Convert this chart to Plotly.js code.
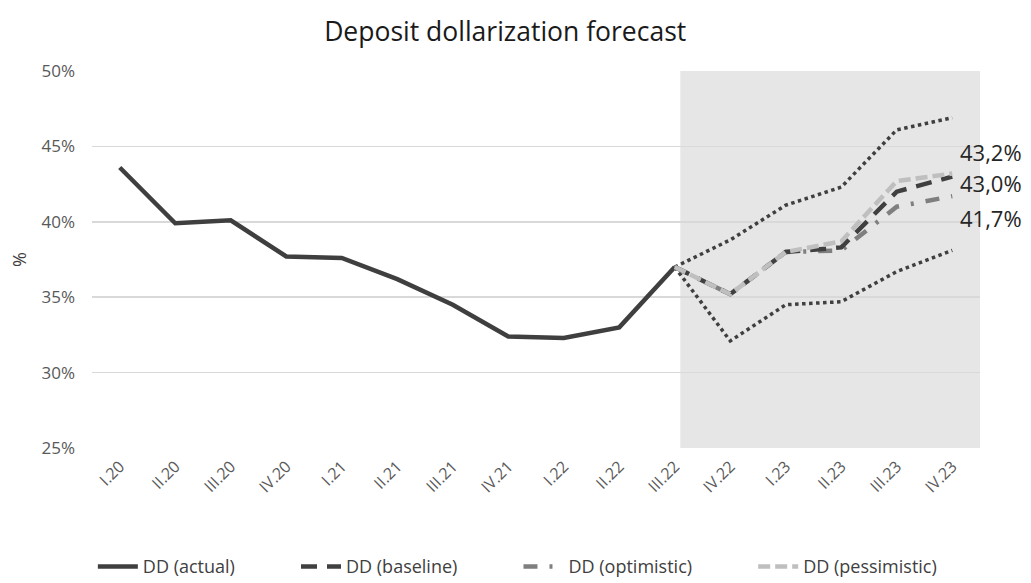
<!DOCTYPE html>
<html>
<head>
<meta charset="utf-8">
<script src="https://cdn.plot.ly/plotly-3.0.1.min.js"></script>
<style>html,body{margin:0;padding:0;background:#fff;}#chart{width:1031px;height:583px;}</style>
</head>
<body>
<div id="chart"></div>
<script>
const categories = ["I.20","II.20","III.20","IV.20","I.21","II.21","III.21","IV.21","I.22","II.22","III.22","IV.22","I.23","II.23","III.23","IV.23"];
const forecastCats = ["III.22","IV.22","I.23","II.23","III.23","IV.23"];
const actual = [43.6, 39.9, 40.1, 37.7, 37.6, 36.2, 34.5, 32.4, 32.3, 33.0, 37.0];
const baseline = [37.0, 35.2, 38.0, 38.3, 42.0, 43.0];
const optimistic = [37.0, 35.2, 38.0, 38.1, 41.0, 41.7];
const pessimistic = [37.0, 35.2, 38.0, 38.7, 42.7, 43.2];
const upperBound = [37.0, 38.8, 41.1, 42.3, 46.1, 46.9];
const lowerBound = [37.0, 32.1, 34.5, 34.7, 36.7, 38.1];
const seriesNames = ["DD (actual)", "DD (baseline)", "DD (optimistic)", "DD (pessimistic)"];
const endLabels = ["43,2%", "43,0%", "41,7%"];
const labelY = [44.6, 42.6, 40.25];

const font = "Open Sans, Lato, sans-serif";
const gap = "\u00a0".repeat(12);
const traces = [
  {x: categories.slice(0, actual.length), y: actual, name: seriesNames[0] + gap, mode: "lines",
   line: {color: "#3f3f3f", width: 4.5}, legendrank: 1},
  {x: forecastCats, y: upperBound, mode: "lines", showlegend: false, name: "upper",
   line: {color: "#3f3f3f", width: 3.5, dash: "dot"}},
  {x: forecastCats, y: lowerBound, mode: "lines", showlegend: false, name: "lower",
   line: {color: "#3f3f3f", width: 3.5, dash: "dot"}},
  {x: forecastCats, y: optimistic, name: seriesNames[2] + gap, mode: "lines", legendrank: 3,
   line: {color: "#7f7f7f", width: 4.5, dash: "14px,12px,3px,12px"}},
  {x: forecastCats, y: baseline, name: seriesNames[1] + gap, mode: "lines", legendrank: 2,
   line: {color: "#404040", width: 4.5, dash: "16px,10px"}},
  {x: forecastCats, y: pessimistic, name: seriesNames[3], mode: "lines", legendrank: 4,
   line: {color: "#bfbfbf", width: 4.5, dash: "12px,5px"}}
];

const annotations = endLabels.map((t, i) => ({
  x: categories.length - 1, y: labelY[i], xref: "x", yref: "y", text: t, showarrow: false,
  xanchor: "left", yanchor: "middle", xshift: 6, font: {family: font, size: 22, color: "#262626"}
}));

const layout = {
  width: 1031, height: 583,
  margin: {l: 92, r: 51, t: 71, b: 135},
  paper_bgcolor: "#fff", plot_bgcolor: "#fff",
  title: {text: "Deposit dollarization forecast", x: 0.49, xanchor: "center", y: 0.945, yanchor: "middle",
          font: {family: font, size: 26.5, color: "#1a1a1a"}},
  font: {family: font, color: "#595959"},
  xaxis: {type: "category", categoryorder: "array", categoryarray: categories, range: [-0.5, 15.5],
          tickangle: -45, tickfont: {size: 16, color: "#595959"}, showgrid: false, showline: false,
          ticks: "", zeroline: false, fixedrange: true, ticklabelstandoff: 5},
  yaxis: {range: [25, 50], tickvals: [25, 30, 35, 40, 45, 50], ticktext: ["25%","30%","35%","40%","45%","50%"],
          tickfont: {size: 17, color: "#595959"}, gridcolor: "#d9d9d9", gridwidth: 1.5, zeroline: false,
          showline: false, ticks: "", ticklabelstandoff: 16,
          title: {text: "%", font: {size: 18, color: "#404040"}, standoff: 10}},
  shapes: [{type: "rect", xref: "x", yref: "y", x0: 10.1, x1: 15.5, y0: 25, y1: 50,
            fillcolor: "#e6e6e6", line: {width: 0}, layer: "below"}],
  legend: {orientation: "h", xref: "paper", x: 0.479, xanchor: "center", yref: "container", y: 0.028, yanchor: "middle",
           font: {size: 18, color: "#404040"}, traceorder: "normal", itemwidth: 40},
  annotations: annotations,
  showlegend: true
};
Plotly.newPlot("chart", traces, layout, {displayModeBar: false, staticPlot: true});
</script>
</body>
</html>
